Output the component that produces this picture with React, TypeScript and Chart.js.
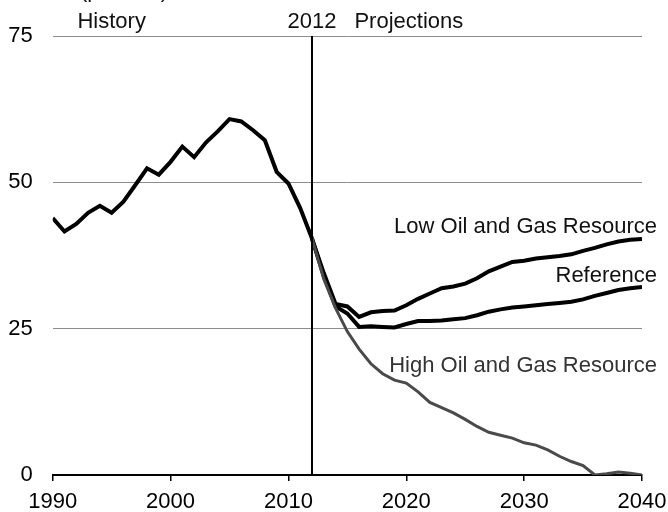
import React, { useEffect, useRef } from "react";
import { Chart, registerables } from "chart.js";

Chart.register(...registerables);

const historyYears = [1990, 1991, 1992, 1993, 1994, 1995, 1996, 1997, 1998, 1999, 2000, 2001, 2002, 2003, 2004, 2005, 2006, 2007, 2008, 2009, 2010, 2011, 2012];
const historyValues = [43.9, 41.6, 42.9, 44.8, 46.0, 44.8, 46.7, 49.5, 52.4, 51.3, 53.5, 56.1, 54.3, 56.8, 58.7, 60.8, 60.4, 58.9, 57.2, 51.8, 49.8, 45.6, 40.4];

const projectionYears = [2012, 2013, 2014, 2015, 2016, 2017, 2018, 2019, 2020, 2021, 2022, 2023, 2024, 2025, 2026, 2027, 2028, 2029, 2030, 2031, 2032, 2033, 2034, 2035, 2036, 2037, 2038, 2039, 2040];
const lowResourceValues = [40.4, 34.5, 29.2, 28.8, 27.0, 27.8, 28.0, 28.1, 29.0, 30.1, 31.0, 31.9, 32.2, 32.7, 33.6, 34.8, 35.6, 36.4, 36.6, 37.0, 37.2, 37.4, 37.7, 38.3, 38.8, 39.4, 39.9, 40.2, 40.3];
const referenceValues = [40.4, 34.0, 28.8, 27.6, 25.3, 25.4, 25.3, 25.2, 25.8, 26.3, 26.3, 26.4, 26.6, 26.8, 27.3, 27.9, 28.3, 28.6, 28.8, 29.0, 29.2, 29.4, 29.6, 30.0, 30.6, 31.1, 31.6, 31.9, 32.1];
const highResourceValues = [40.4, 33.5, 28.5, 24.5, 21.5, 19.0, 17.3, 16.2, 15.7, 14.2, 12.4, 11.5, 10.6, 9.5, 8.3, 7.3, 6.8, 6.3, 5.5, 5.1, 4.3, 3.2, 2.3, 1.6, 0.0, 0.2, 0.5, 0.3, 0.0];

const yTicks = [0, 25, 50, 75];
const xTicks = [1990, 2000, 2010, 2020, 2030, 2040];

const FONT = '"Liberation Sans", Arial, Helvetica, sans-serif';

const pts = (xs: number[], ys: number[]) => xs.map((x, i) => ({ x, y: ys[i] }));

const annotations = {
  id: "annotations",
  afterDatasetsDraw(chart: any) {
    const { ctx, chartArea } = chart;
    const xs = chart.scales.x;
    const ys = chart.scales.y;
    ctx.save();
    // divider line at 2012
    const x12 = xs.getPixelForValue(2012);
    ctx.strokeStyle = "#000";
    ctx.lineWidth = 2;
    ctx.beginPath();
    ctx.moveTo(x12, ys.getPixelForValue(75));
    ctx.lineTo(x12, ys.getPixelForValue(0));
    ctx.stroke();

    ctx.fillStyle = "#111";
    ctx.font = `22px ${FONT}`;
    ctx.textBaseline = "alphabetic";
    // header texts
    ctx.textAlign = "left";
    ctx.fillText("(percent)", 80, -3);
    ctx.fillText("History", xs.getPixelForValue(1992.1), 28);
    ctx.textAlign = "center";
    ctx.fillText("2012", x12, 28);
    ctx.textAlign = "left";
    ctx.fillText("Projections", xs.getPixelForValue(2015.6), 28);

    // series labels
    const rx = chartArea.right + 15;
    ctx.textAlign = "right";
    ctx.fillText("Low Oil and Gas Resource", rx, ys.getPixelForValue(41.3));
    ctx.fillText("Reference", rx, ys.getPixelForValue(33.0));
    ctx.fillStyle = "#333";
    ctx.fillText("High Oil and Gas Resource", rx, ys.getPixelForValue(17.6));
    ctx.restore();
  },
};

export default function App() {
  const ref = useRef<HTMLCanvasElement>(null);
  useEffect(() => {
    if (!ref.current) return;
    const chart = new Chart(ref.current, {
      type: "line",
      data: {
        datasets: [
          {
            label: "High Oil and Gas Resource",
            data: pts(projectionYears, highResourceValues),
            borderColor: "#4a4a4a",
            borderWidth: 3,
            pointRadius: 0,
            tension: 0,
          },
          {
            label: "Reference",
            data: pts(projectionYears, referenceValues),
            borderColor: "#000",
            borderWidth: 4,
            pointRadius: 0,
            tension: 0,
          },
          {
            label: "Low Oil and Gas Resource",
            data: pts(projectionYears, lowResourceValues),
            borderColor: "#000",
            borderWidth: 4,
            pointRadius: 0,
            tension: 0,
          },
          {
            label: "History",
            data: pts(historyYears, historyValues),
            borderColor: "#000",
            borderWidth: 4,
            pointRadius: 0,
            tension: 0,
          },
        ],
      },
      options: {
        animation: false,
        responsive: false,
        devicePixelRatio: 1,
        layout: { padding: { left: 0, right: 26, top: 36, bottom: 0 } },
        plugins: { legend: { display: false }, tooltip: { enabled: false } },
        scales: {
          x: {
            type: "linear",
            min: 1990,
            max: 2040,
            afterBuildTicks: (s: any) => {
              s.ticks = xTicks.map((v) => ({ value: v }));
            },
            afterFit: (s: any) => {
              s.height = 37;
              s.paddingLeft = 0;
              s.paddingRight = 0;
            },
            ticks: {
              color: "#000",
              font: { family: FONT, size: 22 },
              padding: 8,
              maxRotation: 0,
              callback: (v: any) => String(v),
            },
            grid: {
              drawOnChartArea: false,
              drawTicks: true,
              tickLength: 6,
              color: "#000",
              lineWidth: 1.5,
            },
            border: { display: true, color: "#000", width: 2 },
          },
          y: {
            min: 0,
            max: 75,
            afterBuildTicks: (s: any) => {
              s.ticks = yTicks.map((v) => ({ value: v }));
            },
            afterFit: (s: any) => {
              s.width = 52.7;
              s.paddingTop = 0;
              s.paddingBottom = 0;
            },
            ticks: {
              color: "#000",
              font: { family: FONT, size: 22 },
              padding: 20,
            },
            grid: {
              drawTicks: false,
              color: (c: any) => (c.tick && c.tick.value === 0 ? "rgba(0,0,0,0)" : "#8c8c8c"),
              lineWidth: 1,
            },
            border: { display: false },
          },
        },
      },
      plugins: [annotations],
    });
    return () => chart.destroy();
  }, []);
  return (
    <div style={{ position: "absolute", left: 0, top: 0, width: 668, height: 512, background: "#fff" }}>
      <canvas ref={ref} width={668} height={512} style={{ width: 668, height: 512, display: "block" }} />
    </div>
  );
}
